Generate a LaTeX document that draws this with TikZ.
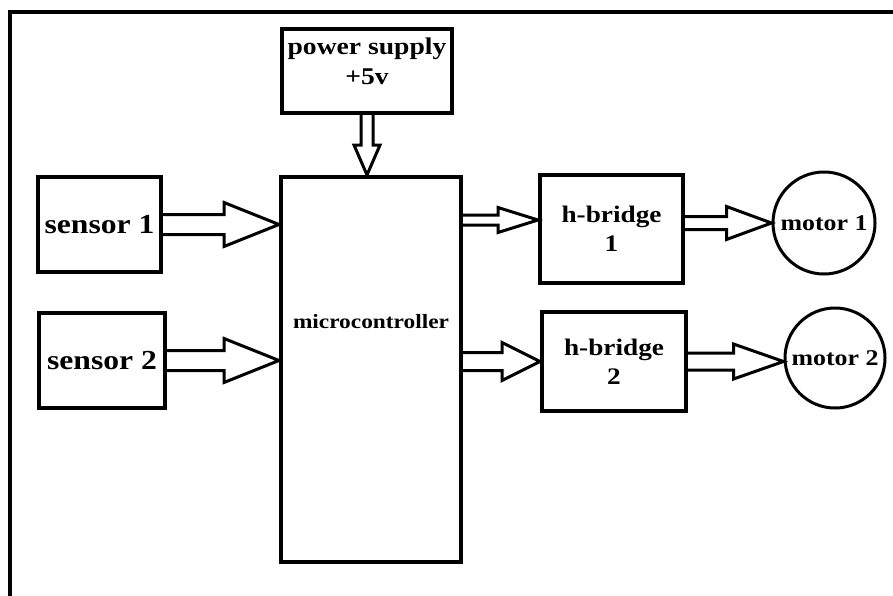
\documentclass[tikz,border=0pt]{standalone}
\usepackage{fontspec}
\usetikzlibrary{calc, positioning}
\newfontfamily\diagfont[FakeStretch=1.15]{Liberation Serif}

% hollow block arrow pointing right: start, tip, shaft half-width, head half-width, head length
\newcommand{\fatarrowR}[5]{%
  \draw[fatarrow] ($(#1)+(0,-#3)$) -- ($(#2)+(-#5,-#3)$) -- ($(#2)+(-#5,-#4)$)
    -- (#2) -- ($(#2)+(-#5,#4)$) -- ($(#2)+(-#5,#3)$) -- ($(#1)+(0,#3)$);}
% hollow block arrow pointing down: start, tip, shaft half-width, head half-width, head length
\newcommand{\fatarrowD}[5]{%
  \draw[fatarrow] ($(#1)+(-#3,0)$) -- ($(#2)+(-#3,-#5)$) -- ($(#2)+(-#4,-#5)$)
    -- (#2) -- ($(#2)+(#4,-#5)$) -- ($(#2)+(#3,-#5)$) -- ($(#1)+(#3,0)$);}

\begin{document}
\begin{tikzpicture}[
    x=1pt, y=-1pt,
    blk/.style={draw=black, line width=4pt, inner sep=0pt, align=center,
        font=\diagfont\bfseries},
    motor/.style={circle, draw=black, line width=3pt, inner sep=0pt,
        font=\diagfont\bfseries\fontsize{22.5}{26}\selectfont},
    fatarrow/.style={draw=black, line width=3pt, line join=miter},
]
\useasboundingbox (0,0) rectangle (893,595);

%--- Outer frame ---
\draw[line width=4pt] (10,600) -- (10,12) -- (900,12);

%============================================================
% Blocks
%============================================================
\node[blk, minimum width=170pt, minimum height=84pt, text depth=20pt,
    font=\diagfont\bfseries\fontsize{24}{30}\selectfont]
    (psu) at (367,71) {power supply\\+5v};
\node[blk, minimum width=180pt, minimum height=385pt] (mcu) at (371,369.5) {};
\node[font=\diagfont\bfseries\fontsize{20.3}{24}\selectfont]
    (mcutext) at ($(mcu.center)+(0,-48)$) {microcontroller};

\node[blk, minimum width=123pt, minimum height=95pt,
    font=\diagfont\bfseries\fontsize{27.5}{30}\selectfont]
    (sen1) at (99.5,224.5) {sensor 1};
\node[blk, minimum width=126pt, minimum height=95pt,
    font=\diagfont\bfseries\fontsize{27.5}{30}\selectfont]
    (sen2) at (102,360.5) {sensor 2};

\node[blk, minimum width=143pt, minimum height=108pt,
    font=\diagfont\bfseries\fontsize{23.7}{29}\selectfont]
    (hb1) at (611.5,229) {h-bridge\\1};
\node[blk, minimum width=144pt, minimum height=99pt,
    font=\diagfont\bfseries\fontsize{23.7}{29}\selectfont]
    (hb2) at (614,361.5) {h-bridge\\2};

\node[motor, minimum size=102pt] (mot1) at (824,223) {motor 1};
\node[motor, minimum size=100pt] (mot2) at (835,358) {motor 2};

%============================================================
% Arrow end points
%============================================================
\coordinate (tipS1) at (mcu.west |- sen1.east);
\coordinate (tipS2) at (mcu.west |- sen2.east);
\coordinate (tipH1) at ($(hb1.west)+(0,-9)$);
\coordinate (outH1) at (mcu.east |- tipH1);
\coordinate (outH2) at (mcu.east |- hb2.west);
\coordinate (outM1) at (hb1.east |- mot1.west);
\coordinate (tipM2) at (mot2.west |- hb2.east);
\coordinate (tipP)  at (psu.south |- mcu.north);

%============================================================
% Block arrows
%============================================================
\fatarrowD{psu.south}{tipP}{6}{13}{30}
\fatarrowR{sen1.east}{tipS1}{10}{22}{55}
\fatarrowR{sen2.east}{tipS2}{10}{22}{55}
\fatarrowR{outH1}{tipH1}{5}{12.5}{40}
\fatarrowR{outH2}{hb2.west}{9}{19}{38}
\fatarrowR{outM1}{mot1.west}{6.5}{16.5}{45}
\fatarrowR{hb2.east}{tipM2}{8.5}{17.5}{50}

\end{tikzpicture}
\end{document}
